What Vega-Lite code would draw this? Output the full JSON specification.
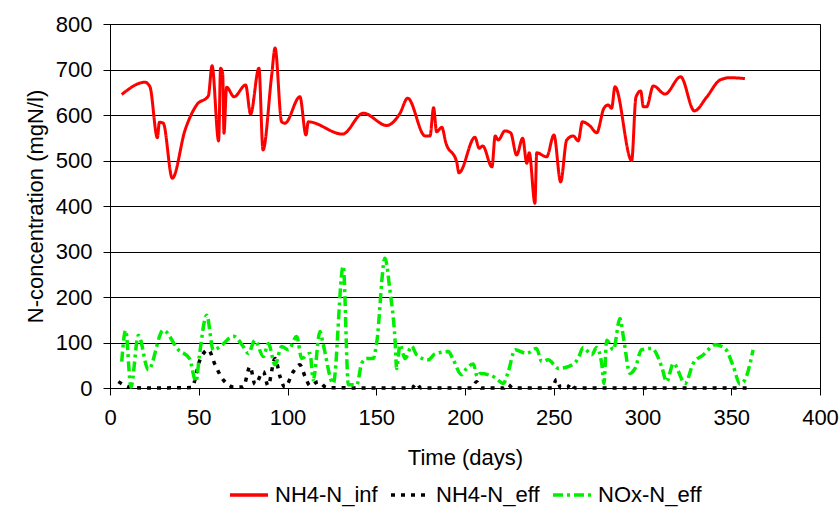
{
  "$schema": "https://vega.github.io/schema/vega-lite/v6.json",
  "width": 710,
  "height": 364,
  "autosize": {"type": "none"},
  "padding": {"left": 110, "top": 24, "right": 20, "bottom": 129},
  "background": "white",
  "config": {
    "font": "Liberation Sans",
    "view": {"stroke": "black", "strokeWidth": 1},
    "axis": {"labelFont": "Liberation Sans", "titleFont": "Liberation Sans", "labelColor": "black", "titleColor": "black", "titleFontWeight": "normal", "domainColor": "black", "tickColor": "black", "gridColor": "black", "gridOpacity": 1}
  },
  "datasets": {
    "inf": [
      {"t": 6.6, "v": 645}, {"t": 19.7, "v": 672}, {"t": 22.5, "v": 662}, {"t": 26.7, "v": 550}, {"t": 27.8, "v": 584}, {"t": 30, "v": 582}, {"t": 35.1, "v": 461}, {"t": 42.3, "v": 567}, {"t": 48.8, "v": 622}, {"t": 55.4, "v": 642}, {"t": 57.5, "v": 708}, {"t": 61.2, "v": 543}, {"t": 62.3, "v": 703}, {"t": 63.5, "v": 690}, {"t": 64.2, "v": 560}, {"t": 65.7, "v": 661}, {"t": 69.9, "v": 640}, {"t": 76.4, "v": 666}, {"t": 79.2, "v": 602}, {"t": 83.9, "v": 703}, {"t": 86.2, "v": 523}, {"t": 91.1, "v": 688}, {"t": 93, "v": 747}, {"t": 96.7, "v": 585}, {"t": 98.6, "v": 582}, {"t": 107, "v": 640}, {"t": 110.4, "v": 556}, {"t": 111.7, "v": 585}, {"t": 131, "v": 558}, {"t": 142.7, "v": 604}, {"t": 155.9, "v": 577}, {"t": 163.4, "v": 604}, {"t": 167.7, "v": 637}, {"t": 177.5, "v": 554}, {"t": 180.3, "v": 554}, {"t": 182.3, "v": 616}, {"t": 184, "v": 563}, {"t": 186.9, "v": 573}, {"t": 189.3, "v": 538}, {"t": 195.3, "v": 497}, {"t": 196.6, "v": 473}, {"t": 205.6, "v": 551}, {"t": 208, "v": 527}, {"t": 210, "v": 532}, {"t": 215.2, "v": 486}, {"t": 217, "v": 554}, {"t": 218.7, "v": 545}, {"t": 222.5, "v": 565}, {"t": 225.7, "v": 561}, {"t": 229.1, "v": 512}, {"t": 232.5, "v": 549}, {"t": 234.8, "v": 494}, {"t": 236.2, "v": 517}, {"t": 239.4, "v": 406}, {"t": 240.4, "v": 517}, {"t": 246, "v": 508}, {"t": 250.1, "v": 556}, {"t": 253.9, "v": 453}, {"t": 257.3, "v": 545}, {"t": 261, "v": 554}, {"t": 263.8, "v": 543}, {"t": 266.1, "v": 585}, {"t": 270.4, "v": 576}, {"t": 274.2, "v": 561}, {"t": 278.3, "v": 615}, {"t": 280.7, "v": 622}, {"t": 282.6, "v": 615}, {"t": 284.5, "v": 662}, {"t": 293.9, "v": 500}, {"t": 296.3, "v": 639}, {"t": 299, "v": 653}, {"t": 300.5, "v": 618}, {"t": 302.3, "v": 618}, {"t": 306.1, "v": 664}, {"t": 312.7, "v": 646}, {"t": 321.5, "v": 684}, {"t": 329.2, "v": 609}, {"t": 336.1, "v": 639}, {"t": 343.7, "v": 677}, {"t": 349.3, "v": 682}, {"t": 357.7, "v": 680}
    ],
    "eff": [
      {"t": 4.7, "v": 14}, {"t": 11.3, "v": 2}, {"t": 20, "v": 0}, {"t": 46, "v": 1}, {"t": 50.7, "v": 62}, {"t": 55.4, "v": 84}, {"t": 59.2, "v": 51}, {"t": 63.8, "v": 18}, {"t": 65.7, "v": 10}, {"t": 69.5, "v": 2}, {"t": 75, "v": 2}, {"t": 78.9, "v": 47}, {"t": 81.7, "v": 8}, {"t": 86.4, "v": 36}, {"t": 89, "v": 5}, {"t": 93, "v": 65}, {"t": 95.8, "v": 25}, {"t": 98.5, "v": 2}, {"t": 103.3, "v": 36}, {"t": 107, "v": 51}, {"t": 109.9, "v": 25}, {"t": 112.7, "v": 5}, {"t": 117.4, "v": 14}, {"t": 122, "v": 1}, {"t": 150, "v": 0}, {"t": 170, "v": 0}, {"t": 172.7, "v": 10}, {"t": 175, "v": 0}, {"t": 204, "v": 0}, {"t": 206.5, "v": 14}, {"t": 209, "v": 0}, {"t": 222, "v": 0}, {"t": 224, "v": 8}, {"t": 227, "v": 0}, {"t": 249, "v": 0}, {"t": 251.6, "v": 19}, {"t": 254, "v": 0}, {"t": 257.5, "v": 0}, {"t": 259.7, "v": 10}, {"t": 262, "v": 0}, {"t": 300, "v": 0}, {"t": 361, "v": 0}
    ],
    "nox": [
      {"t": 6.6, "v": 58}, {"t": 8.8, "v": 127}, {"t": 11.8, "v": 2}, {"t": 16, "v": 116}, {"t": 21.6, "v": 40}, {"t": 30, "v": 127}, {"t": 38.5, "v": 84}, {"t": 44.7, "v": 65}, {"t": 48.5, "v": 14}, {"t": 50.3, "v": 69}, {"t": 54.5, "v": 160}, {"t": 58.2, "v": 83}, {"t": 62, "v": 91}, {"t": 69.5, "v": 114}, {"t": 75.1, "v": 91}, {"t": 77.9, "v": 76}, {"t": 81.7, "v": 105}, {"t": 86.4, "v": 69}, {"t": 89.2, "v": 98}, {"t": 93, "v": 51}, {"t": 96.7, "v": 91}, {"t": 100.5, "v": 84}, {"t": 105.2, "v": 113}, {"t": 108, "v": 65}, {"t": 112.7, "v": 76}, {"t": 114.5, "v": 18}, {"t": 118.3, "v": 124}, {"t": 120, "v": 98}, {"t": 125.8, "v": 10}, {"t": 131.4, "v": 268}, {"t": 134.3, "v": 7}, {"t": 139, "v": 7}, {"t": 141.8, "v": 54}, {"t": 144.6, "v": 65}, {"t": 148.3, "v": 65}, {"t": 150.2, "v": 98}, {"t": 154.9, "v": 285}, {"t": 157.7, "v": 215}, {"t": 160.6, "v": 105}, {"t": 161.5, "v": 43}, {"t": 163.4, "v": 95}, {"t": 166.2, "v": 65}, {"t": 170, "v": 92}, {"t": 172.7, "v": 73}, {"t": 179.3, "v": 62}, {"t": 183.1, "v": 75}, {"t": 190.6, "v": 80}, {"t": 193.4, "v": 62}, {"t": 198.1, "v": 29}, {"t": 200.9, "v": 43}, {"t": 204.7, "v": 53}, {"t": 206.9, "v": 25}, {"t": 208.5, "v": 32}, {"t": 216.9, "v": 23}, {"t": 221.6, "v": 10}, {"t": 224.4, "v": 36}, {"t": 228.2, "v": 84}, {"t": 234.7, "v": 76}, {"t": 240.3, "v": 87}, {"t": 243.2, "v": 58}, {"t": 246.9, "v": 62}, {"t": 252.6, "v": 43}, {"t": 258.2, "v": 47}, {"t": 263.8, "v": 65}, {"t": 266.6, "v": 89}, {"t": 271.4, "v": 73}, {"t": 274.2, "v": 89}, {"t": 277, "v": 54}, {"t": 278.3, "v": 10}, {"t": 279.8, "v": 105}, {"t": 283.6, "v": 84}, {"t": 287.3, "v": 153}, {"t": 289.2, "v": 113}, {"t": 293, "v": 32}, {"t": 295.8, "v": 43}, {"t": 299.5, "v": 84}, {"t": 305.2, "v": 87}, {"t": 310.8, "v": 47}, {"t": 313.6, "v": 14}, {"t": 317.4, "v": 54}, {"t": 324, "v": 10}, {"t": 328.6, "v": 54}, {"t": 334.3, "v": 73}, {"t": 341, "v": 95}, {"t": 346.5, "v": 87}, {"t": 351.2, "v": 47}, {"t": 354.9, "v": 9}, {"t": 357.7, "v": 18}, {"t": 362.3, "v": 84}
    ]
  },
  "encoding": {
    "x": {"field": "t", "type": "quantitative", "scale": {"domain": [0, 400], "nice": false, "zero": false}, "axis": {"title": "Time (days)", "values": [0, 50, 100, 150, 200, 250, 300, 350, 400], "grid": false, "tickSize": 7, "labelFontSize": 22, "titleFontSize": 22, "labelPadding": 12, "titlePadding": 19, "labelFlush": false, "labelOverlap": false}},
    "y": {"field": "v", "type": "quantitative", "scale": {"domain": [0, 800], "nice": false}, "axis": {"title": "N-concentration (mgN/l)", "values": [0, 100, 200, 300, 400, 500, 600, 700, 800], "grid": true, "tickSize": 7, "labelFontSize": 22, "titleFontSize": 22, "labelPadding": 11, "titlePadding": 8, "labelFlush": false, "labelOverlap": false}},
    "color": {"field": "s", "type": "nominal", "scale": {"domain": ["NH4-N_inf", "NH4-N_eff", "NOx-N_eff"], "range": ["#ff0000", "#000000", "#00ee00"]}, "legend": {"title": null, "orient": "none", "direction": "horizontal", "legendX": 118, "legendY": 450, "labelFontSize": 22, "labelFont": "Liberation Sans", "labelColor": "black", "symbolType": "stroke", "symbolSize": 1444, "symbolStrokeWidth": 3.5, "labelOffset": 5, "columnPadding": 6, "labelLimit": 300}},
    "strokeDash": {"field": "s", "type": "nominal", "scale": {"domain": ["NH4-N_inf", "NH4-N_eff", "NOx-N_eff"], "range": [[1, 0], [4, 6], [10, 4, 3, 4]]}, "legend": null},
    "order": {"field": "t", "type": "quantitative"}
  },
  "layer": [
    {"data": {"name": "eff"}, "transform": [{"calculate": "'NH4-N_eff'", "as": "s"}], "mark": {"type": "line", "strokeWidth": 3.5, "interpolate": "monotone"}},
    {"data": {"name": "nox"}, "transform": [{"calculate": "'NOx-N_eff'", "as": "s"}], "mark": {"type": "line", "strokeWidth": 3.5, "interpolate": "monotone"}},
    {"data": {"name": "inf"}, "transform": [{"calculate": "'NH4-N_inf'", "as": "s"}], "mark": {"type": "line", "strokeWidth": 3, "interpolate": "monotone"}}
  ]
}
